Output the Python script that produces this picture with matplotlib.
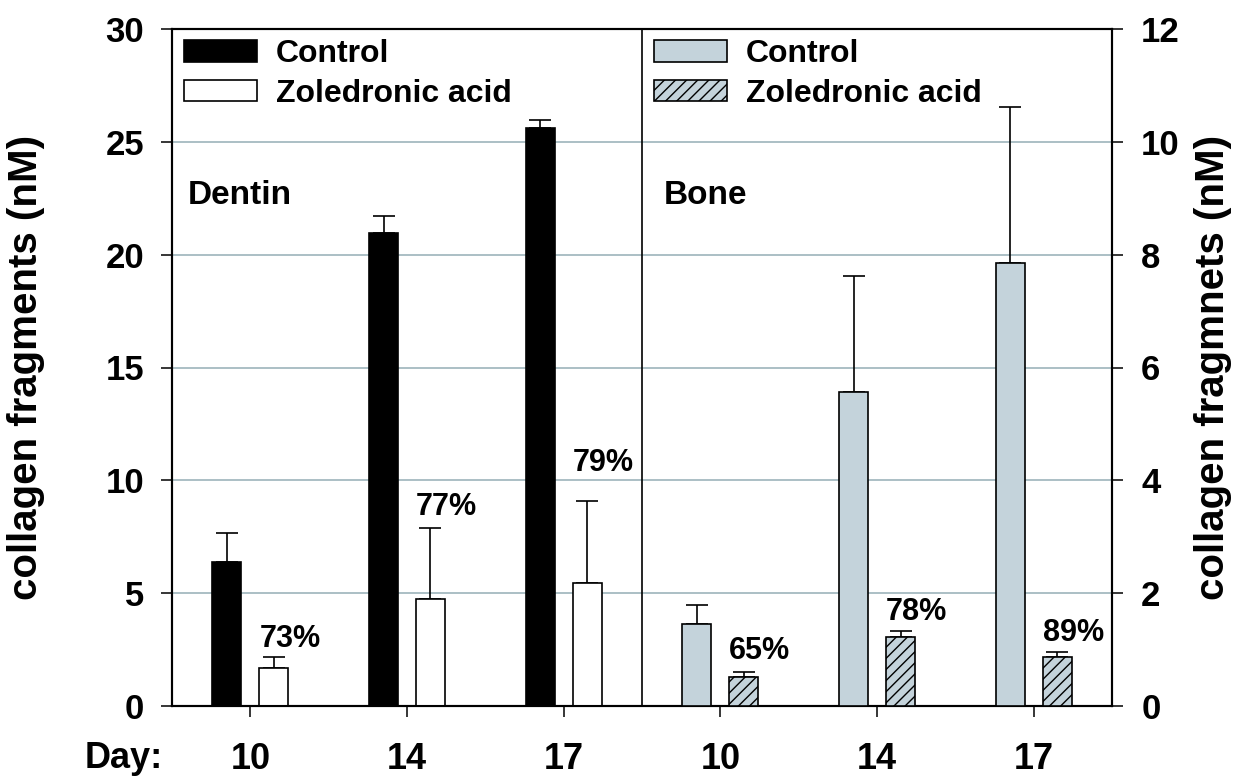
import matplotlib
matplotlib.use("Agg")
import matplotlib.pyplot as plt
from matplotlib.patches import Patch
import numpy as np

plt.rcParams['font.family'] = ['Liberation Sans', 'DejaVu Sans']
plt.rcParams['font.weight'] = 'bold'
plt.rcParams['hatch.linewidth'] = 1.0

# ---------------- data ----------------
day_labels = ['10', '14', '17', '10', '14', '17']
series_names = ['Control', 'Zoledronic acid']

dentin_control = [6.39, 20.97, 25.62]
dentin_control_err = [1.29, 0.75, 0.34]
dentin_zol = [1.70, 4.74, 5.44]
dentin_zol_err = [0.46, 3.16, 3.66]

bone_control = [1.45, 5.56, 7.85]
bone_control_err = [0.34, 2.06, 2.76]
bone_zol = [0.51, 1.23, 0.87]
bone_zol_err = [0.09, 0.10, 0.09]

dentin_pct = ['73%', '77%', '79%']
bone_pct = ['65%', '78%', '89%']

# ---------------- layout ----------------
dentin_pos = np.array([0, 1, 2])
bone_pos = np.array([3, 4, 5])
bar_w = 0.185
off = 0.15
dentin_pct_y = [2.61, 8.46, 10.43]   # left-axis units (label baselines)
bone_pct_y = [0.83, 1.52, 1.16]      # right-axis units

bone_color = '#c4d3db'
grid_color = '#9db4bb'

fig = plt.figure(figsize=(12.35, 7.77), dpi=100)
ax = fig.add_axes([172/1235, 1-706/777, 940/1235, 677/777])
ax2 = ax.twinx()

ekw = dict(elinewidth=1.2, capthick=1.2, ecolor='black')

# Dentin (left axis)
ax.bar(dentin_pos - off, dentin_control, bar_w, color='black', edgecolor='black',
       linewidth=1.2, zorder=3)
ax.errorbar(dentin_pos - off, dentin_control, yerr=[np.zeros(3), dentin_control_err],
            fmt='none', capsize=8, zorder=2, **ekw)
ax.bar(dentin_pos + off, dentin_zol, bar_w, color='white', edgecolor='black',
       linewidth=1.2, zorder=3)
ax.errorbar(dentin_pos + off, dentin_zol, yerr=[np.zeros(3), dentin_zol_err],
            fmt='none', capsize=8, zorder=2, **ekw)

# Bone (right axis)
ax2.bar(bone_pos - off, bone_control, bar_w, color=bone_color, edgecolor='black',
        linewidth=1.2, zorder=3)
ax2.errorbar(bone_pos - off, bone_control, yerr=[np.zeros(3), bone_control_err],
             fmt='none', capsize=8, zorder=2, **ekw)
ax2.bar(bone_pos + off, bone_zol, bar_w, color=bone_color, edgecolor='black',
        hatch='///', linewidth=1.2, zorder=3)
ax2.errorbar(bone_pos + off, bone_zol, yerr=[np.zeros(3), bone_zol_err],
             fmt='none', capsize=8, zorder=2, **ekw)

# percentage labels
for x, y, t in zip(dentin_pos + off - bar_w/2, dentin_pct_y, dentin_pct):
    ax.text(x, y, t, ha='left', va='baseline', fontsize=22, fontweight='bold')
for x, y, t in zip(bone_pos + off - bar_w/2, bone_pct_y, bone_pct):
    ax2.text(x, y, t, ha='left', va='baseline', fontsize=22, fontweight='bold')

# axes limits / ticks
ax.set_xlim(-0.5, 5.5)
ax.set_ylim(0, 30)
ax2.set_ylim(0, 12)
ax.set_yticks(np.arange(0, 31, 5))
ax2.set_yticks(np.arange(0, 13, 2))
ax.set_xticks(np.concatenate([dentin_pos, bone_pos]))
ax.set_xticklabels(day_labels)

ax.tick_params(axis='y', direction='out', length=8, width=1.1, labelsize=25, pad=12)
ax2.tick_params(axis='y', direction='out', length=8, width=1.1, labelsize=25, pad=13)
ax.tick_params(axis='x', direction='out', length=8, width=1.1, labelsize=26, pad=18)

for a in (ax, ax2):
    for s in a.spines.values():
        s.set_linewidth(1.5)

ax.set_axisbelow(True)
ax.yaxis.grid(True, color=grid_color, linewidth=1.2)
ax.xaxis.grid(False)

# divider between the two panels
ax.axvline(2.5, color='black', linewidth=1.2, zorder=4)

# panel titles
ax.text(-0.398, 22.64, 'Dentin', ha='left', va='center', fontsize=24, fontweight='bold')
ax.text(2.64, 22.64, 'Bone', ha='left', va='center', fontsize=24, fontweight='bold')

# Day label
ax.text(-0.806, -0.0916, 'Day:', transform=ax.get_xaxis_transform(), ha='center',
        va='baseline', fontsize=26, fontweight='bold')

# y labels
ax.text(-0.155, 0.5, 'collagen fragments (nM)', transform=ax.transAxes, rotation=90,
        ha='center', va='center', fontsize=29, fontweight='bold')
ax.text(1.107, 0.5, 'collagen fragmnets (nM)', transform=ax.transAxes, rotation=90,
        ha='center', va='center', fontsize=29, fontweight='bold')

# legends
h_d = [Patch(facecolor='black', edgecolor='black', linewidth=1.2),
       Patch(facecolor='white', edgecolor='black', linewidth=1.2)]
h_b = [Patch(facecolor=bone_color, edgecolor='black', linewidth=1.2),
       Patch(facecolor=bone_color, edgecolor='black', hatch='///', linewidth=1.2)]
lkw = dict(frameon=False, loc='upper left', borderpad=0, borderaxespad=0,
           handlelength=2.28, handleheight=0.66, handletextpad=0.6, labelspacing=0.3,
           prop={'size': 23, 'weight': 'bold'})
leg1 = ax2.legend(h_d, series_names, bbox_to_anchor=(0.0128, 0.985), **lkw)
ax2.add_artist(leg1)
ax2.legend(h_b, series_names, bbox_to_anchor=(0.5128, 0.985), **lkw)

fig.savefig('out.png', dpi=100)
